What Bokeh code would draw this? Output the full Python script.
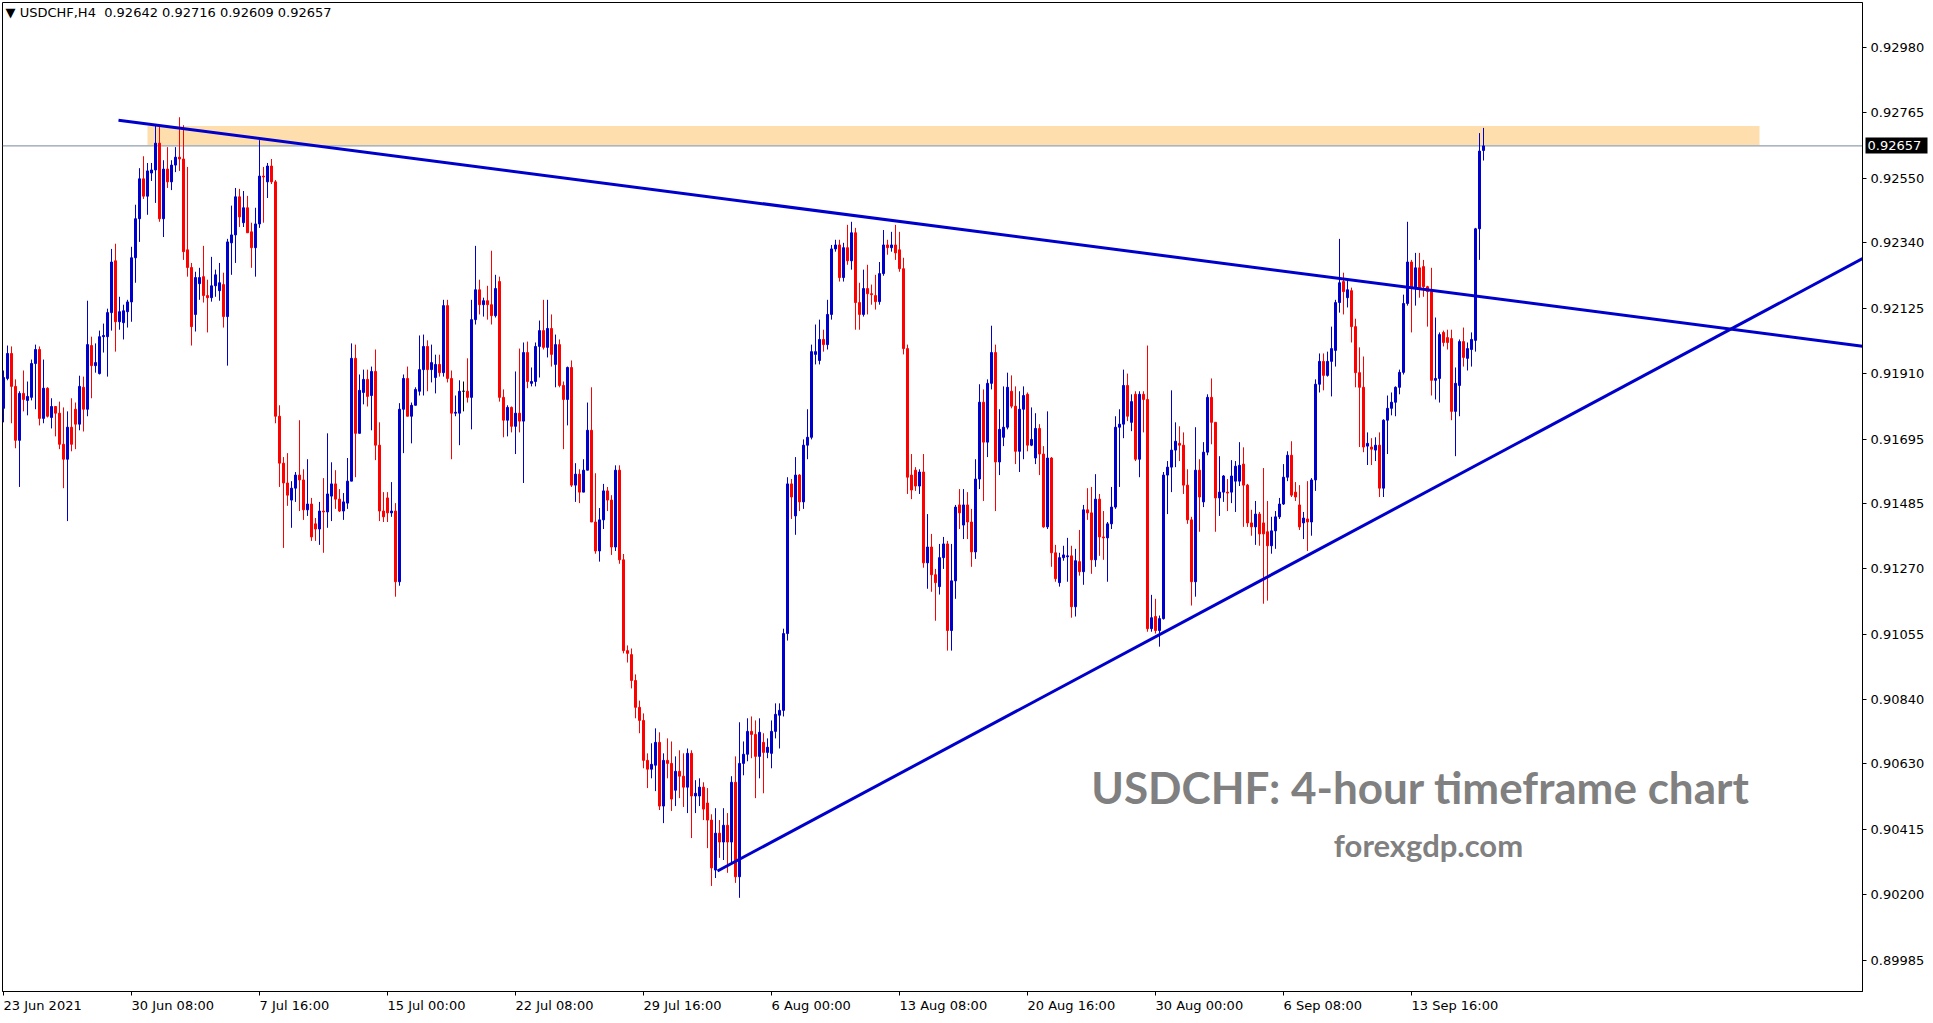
from bokeh.plotting import figure
from bokeh.models import (Range1d, FixedTicker, PrintfTickFormatter, Label, Span,
                          ColumnDataSource, LinearAxis)
from bokeh.embed import file_html
from bokeh.resources import INLINE

symbol_title = "\u25bc USDCHF,H4\u00a0\u00a00.92642 0.92716 0.92609 0.92657"
watermark_title = "USDCHF: 4-hour timeframe chart"
watermark_site = "forexgdp.com"

opens = [
0.91796,0.91894,0.91976,0.91868,0.91691,0.91845,0.91822,0.91832,0.91943,0.91989,
0.91763,0.91862,0.91766,0.91802,0.91780,0.91678,0.91629,0.91734,0.91793,0.91744,
0.91865,0.91793,0.92002,0.91936,0.91910,0.92031,0.92031,0.92110,0.92280,0.92080,
0.92077,0.92113,0.92145,0.92290,0.92418,0.92549,0.92492,0.92568,0.92578,0.92666,
0.92418,0.92581,0.92539,0.92594,0.92620,0.92614,0.92316,0.92258,0.92104,0.92205,
0.92228,0.92166,0.92159,0.92198,0.92182,0.92202,0.92097,0.92339,0.92365,0.92490,
0.92405,0.92454,0.92375,0.92323,0.92401,0.92558,0.92539,0.92591,0.92539,0.91770,
0.91616,0.91551,0.91495,0.91534,0.91577,0.91561,0.91463,0.91482,0.91417,0.91400,
0.91459,0.91456,0.91508,0.91548,0.91498,0.91459,0.91485,0.91557,0.91960,0.91714,
0.91848,0.91891,0.91838,0.91917,0.91675,0.91459,0.91502,0.91453,0.91459,0.91227,
0.91793,0.91894,0.91770,0.91806,0.91852,0.91923,0.91999,0.91923,0.91897,0.91940,
0.91913,0.92133,0.91894,0.91780,0.91780,0.91852,0.91852,0.91832,0.92087,0.92185,
0.92136,0.92149,0.92136,0.92100,0.92212,0.91832,0.91757,0.91799,0.91737,0.91780,
0.91754,0.91979,0.91878,0.91884,0.91999,0.92051,0.91996,0.92058,0.91940,0.92005,
0.91871,0.91825,0.91930,0.91544,0.91580,0.91521,0.91593,0.91724,0.91423,0.91328,
0.91430,0.91525,0.91495,0.91341,0.91593,0.91299,0.91001,0.90988,0.90903,0.90815,
0.90772,0.90641,0.90612,0.90625,0.90700,0.90491,0.90641,0.90631,0.90543,0.90605,
0.90589,0.90553,0.90664,0.90524,0.90524,0.90553,0.90501,0.90445,0.90281,0.90402,
0.90373,0.90428,0.90373,0.90569,0.90259,0.90631,0.90661,0.90736,0.90726,0.90654,
0.90700,0.90667,0.90664,0.90736,0.90789,0.90805,0.91057,0.91548,0.91443,0.91577,
0.91489,0.91675,0.91701,0.91973,0.91953,0.92022,0.92005,0.92104,0.92319,0.92332,
0.92225,0.92323,0.92280,0.92372,0.92143,0.92104,0.92189,0.92172,0.92166,0.92146,
0.92238,0.92332,0.92323,0.92332,0.92316,0.92254,0.91992,0.91577,0.91593,0.91541,
0.91587,0.91289,0.91341,0.91250,0.91211,0.91306,0.91351,0.91067,0.91230,0.91479,
0.91413,0.91479,0.91423,0.91325,0.91564,0.91816,0.91685,0.91878,0.91979,0.91620,
0.91701,0.91734,0.91852,0.91803,0.91655,0.91793,0.91842,0.91675,0.91633,0.91730,
0.91646,0.91407,0.91633,0.91322,0.91224,0.91306,0.91309,0.91312,0.91145,0.91293,
0.91260,0.91463,0.91453,0.91299,0.91498,0.91374,0.91371,0.91417,0.91472,0.91734,
0.91744,0.91871,0.91750,0.91842,0.91629,0.91842,0.91825,0.91073,0.91113,0.91067,
0.91106,0.91577,0.91603,0.91659,0.91681,0.91675,0.91544,0.91430,0.91227,0.91593,
0.91489,0.91652,0.91832,0.91750,0.91502,0.91521,0.91521,0.91521,0.91557,0.91557,
0.91613,0.91544,0.91420,0.91407,0.91449,0.91420,0.91391,0.91345,0.91394,0.91440,
0.91482,0.91570,0.91642,0.91521,0.91479,0.91420,0.91433,0.91423,0.91561,0.91875,
0.91950,0.91904,0.91950,0.91986,0.92143,0.92212,0.92159,0.92182,0.92064,0.91913,
0.91865,0.91672,0.91669,0.91659,0.91675,0.91534,0.91757,0.91796,0.91816,0.91865,
0.91914,0.92140,0.92276,0.92192,0.92257,0.92261,0.92195,0.92179,0.91888,0.91894,
0.92045,0.92028,0.92025,0.91786,0.91871,0.92015,0.91960,0.91989,0.92019,0.92385,
0.92642]

highs = [
0.91920,0.92002,0.91999,0.91891,0.91852,0.91920,0.91884,0.91956,0.92005,0.91999,
0.91956,0.91865,0.91829,0.91802,0.91818,0.91799,0.91786,0.91829,0.91815,0.91903,
0.91900,0.92149,0.92031,0.92009,0.92051,0.92074,0.92123,0.92319,0.92336,0.92162,
0.92136,0.92152,0.92326,0.92464,0.92584,0.92623,0.92601,0.92601,0.92725,0.92725,
0.92610,0.92653,0.92610,0.92653,0.92751,0.92725,0.92588,0.92273,0.92244,0.92257,
0.92329,0.92218,0.92293,0.92251,0.92273,0.92241,0.92352,0.92461,0.92519,0.92516,
0.92509,0.92493,0.92405,0.92454,0.92676,0.92588,0.92601,0.92614,0.92545,0.91806,
0.91636,0.91649,0.91557,0.91587,0.91757,0.91596,0.91629,0.91502,0.91436,0.91489,
0.91567,0.91714,0.91619,0.91593,0.91531,0.91518,0.91633,0.92009,0.92005,0.91907,
0.91923,0.91923,0.91933,0.91989,0.91750,0.91521,0.91521,0.91554,0.91485,0.91813,
0.91907,0.91933,0.91815,0.91865,0.92035,0.92038,0.92019,0.92005,0.91972,0.91972,
0.92152,0.92152,0.91920,0.91838,0.91888,0.91884,0.91960,0.92152,0.92329,0.92218,
0.92159,0.92198,0.92313,0.92234,0.92228,0.91858,0.91806,0.91802,0.91917,0.91992,
0.92012,0.92015,0.91930,0.92012,0.92084,0.92152,0.92152,0.92104,0.92038,0.92022,
0.91884,0.91933,0.91953,0.91616,0.91596,0.91629,0.91815,0.91865,0.91583,0.91469,
0.91548,0.91538,0.91511,0.91609,0.91609,0.91318,0.91018,0.91008,0.90923,0.90837,
0.90795,0.90664,0.90697,0.90746,0.90733,0.90664,0.90713,0.90703,0.90654,0.90674,
0.90664,0.90680,0.90674,0.90576,0.90582,0.90569,0.90550,0.90464,0.90484,0.90445,
0.90484,0.90468,0.90589,0.90654,0.90766,0.90703,0.90779,0.90785,0.90772,0.90779,
0.90730,0.90713,0.90772,0.90828,0.90828,0.91073,0.91570,0.91564,0.91636,0.91580,
0.91694,0.91793,0.92005,0.92071,0.92087,0.92054,0.92152,0.92332,0.92349,0.92349,
0.92339,0.92398,0.92408,0.92388,0.92208,0.92251,0.92267,0.92202,0.92234,0.92276,
0.92381,0.92349,0.92375,0.92398,0.92375,0.92290,0.92005,0.91646,0.91603,0.91596,
0.91646,0.91449,0.91384,0.91269,0.91351,0.91374,0.91361,0.91351,0.91479,0.91531,
0.91531,0.91521,0.91466,0.91629,0.91875,0.91858,0.91891,0.92067,0.92005,0.91793,
0.91868,0.91913,0.91904,0.91868,0.91852,0.91868,0.91848,0.91799,0.91780,0.91744,
0.91672,0.91786,0.91636,0.91348,0.91322,0.91345,0.91371,0.91345,0.91335,0.91397,
0.91479,0.91534,0.91538,0.91580,0.91515,0.91459,0.91423,0.91538,0.91770,0.91793,
0.91923,0.91910,0.91842,0.91852,0.91852,0.91852,0.92002,0.91184,0.91171,0.91116,
0.91587,0.91623,0.91855,0.91750,0.91737,0.91717,0.91596,0.91440,0.91734,0.91629,
0.91685,0.91842,0.91894,0.91750,0.91639,0.91577,0.91564,0.91626,0.91623,0.91685,
0.91668,0.91548,0.91463,0.91492,0.91456,0.91600,0.91492,0.91440,0.91459,0.91502,
0.91613,0.91655,0.91688,0.91554,0.91544,0.91456,0.91557,0.91567,0.91891,0.91976,
0.91976,0.91982,0.92064,0.92152,0.92352,0.92241,0.92218,0.92192,0.92090,0.91996,
0.91966,0.91717,0.91698,0.91701,0.91717,0.91760,0.91838,0.91848,0.91868,0.91923,
0.92169,0.92408,0.92283,0.92306,0.92306,0.92283,0.92198,0.92257,0.92094,0.92045,
0.92051,0.92054,0.92054,0.91930,0.92022,0.92061,0.92012,0.92045,0.92388,0.92699,
0.92716]

lows = [
0.91750,0.91888,0.91747,0.91665,0.91538,0.91786,0.91773,0.91822,0.91793,0.91740,
0.91747,0.91766,0.91730,0.91704,0.91662,0.91534,0.91426,0.91655,0.91662,0.91724,
0.91720,0.91770,0.91829,0.91913,0.91907,0.91979,0.91900,0.92051,0.91982,0.92054,
0.92022,0.92061,0.92080,0.92208,0.92342,0.92483,0.92431,0.92542,0.92470,0.92408,
0.92358,0.92519,0.92512,0.92571,0.92575,0.92283,0.92228,0.92002,0.92048,0.92152,
0.92143,0.92045,0.92146,0.92162,0.92149,0.92061,0.91936,0.92234,0.92273,0.92391,
0.92391,0.92372,0.92257,0.92228,0.92388,0.92405,0.92486,0.92532,0.91747,0.91538,
0.91338,0.91476,0.91404,0.91489,0.91459,0.91430,0.91443,0.91361,0.91361,0.91348,
0.91322,0.91404,0.91426,0.91466,0.91456,0.91430,0.91466,0.91557,0.91570,0.91714,
0.91809,0.91802,0.91724,0.91626,0.91426,0.91423,0.91423,0.91440,0.91178,0.91214,
0.91649,0.91770,0.91681,0.91806,0.91838,0.91838,0.91852,0.91881,0.91845,0.91900,
0.91900,0.91881,0.91629,0.91770,0.91675,0.91786,0.91815,0.91727,0.92071,0.92104,
0.92097,0.92087,0.92071,0.92094,0.91818,0.91701,0.91704,0.91717,0.91646,0.91717,
0.91551,0.91862,0.91868,0.91868,0.91897,0.91989,0.91963,0.91933,0.91865,0.91865,
0.91662,0.91740,0.91538,0.91489,0.91485,0.91521,0.91593,0.91423,0.91319,0.91293,
0.91400,0.91459,0.91315,0.91328,0.91286,0.90992,0.90962,0.90877,0.90779,0.90730,
0.90615,0.90550,0.90582,0.90540,0.90478,0.90435,0.90582,0.90475,0.90491,0.90517,
0.90488,0.90468,0.90386,0.90468,0.90491,0.90445,0.90353,0.90229,0.90255,0.90321,
0.90314,0.90272,0.90304,0.90239,0.90190,0.90592,0.90638,0.90648,0.90517,0.90582,
0.90533,0.90648,0.90615,0.90713,0.90680,0.90785,0.91034,0.91433,0.91381,0.91459,
0.91466,0.91629,0.91694,0.91940,0.91940,0.91982,0.91989,0.92087,0.92310,0.92212,
0.92212,0.92267,0.92251,0.92054,0.92054,0.92097,0.92104,0.92136,0.92120,0.92136,
0.92231,0.92300,0.92310,0.92283,0.92244,0.91973,0.91515,0.91498,0.91525,0.91515,
0.91273,0.91204,0.91194,0.91099,0.91185,0.91269,0.91001,0.91001,0.91171,0.91400,
0.91367,0.91367,0.91276,0.91302,0.91531,0.91492,0.91636,0.91858,0.91459,0.91577,
0.91672,0.91727,0.91796,0.91613,0.91587,0.91629,0.91655,0.91672,0.91613,0.91577,
0.91404,0.91400,0.91276,0.91227,0.91211,0.91296,0.91227,0.91109,0.91113,0.91247,
0.91217,0.91430,0.91253,0.91276,0.91312,0.91299,0.91227,0.91400,0.91466,0.91538,
0.91698,0.91754,0.91721,0.91623,0.91570,0.91717,0.91063,0.91063,0.91057,0.91014,
0.91103,0.91449,0.91521,0.91603,0.91623,0.91515,0.91417,0.91149,0.91178,0.91391,
0.91472,0.91642,0.91678,0.91391,0.91443,0.91489,0.91459,0.91485,0.91456,0.91541,
0.91407,0.91407,0.91378,0.91348,0.91345,0.91155,0.91165,0.91319,0.91335,0.91433,
0.91479,0.91557,0.91505,0.91492,0.91397,0.91367,0.91328,0.91378,0.91525,0.91848,
0.91855,0.91900,0.91835,0.91933,0.92110,0.92104,0.92127,0.92012,0.91865,0.91669,
0.91652,0.91610,0.91610,0.91623,0.91505,0.91505,0.91646,0.91773,0.91770,0.91842,
0.91907,0.92133,0.92045,0.92133,0.92159,0.92162,0.92064,0.91838,0.91825,0.91815,
0.91999,0.91989,0.91757,0.91639,0.91770,0.91933,0.91920,0.91933,0.91982,0.92283,
0.92609]

closes = [
0.91897,0.91976,0.91868,0.91691,0.91845,0.91825,0.91835,0.91943,0.91989,0.91763,
0.91862,0.91770,0.91802,0.91780,0.91678,0.91629,0.91734,0.91678,0.91744,0.91868,
0.91793,0.92005,0.91936,0.91946,0.92031,0.92035,0.92110,0.92276,0.92080,0.92113,
0.92116,0.92145,0.92290,0.92418,0.92549,0.92492,0.92575,0.92578,0.92666,0.92418,
0.92581,0.92539,0.92594,0.92620,0.92614,0.92310,0.92258,0.92064,0.92225,0.92225,
0.92166,0.92159,0.92198,0.92234,0.92208,0.92097,0.92342,0.92365,0.92490,0.92424,
0.92454,0.92372,0.92323,0.92401,0.92558,0.92555,0.92591,0.92539,0.91770,0.91616,
0.91551,0.91511,0.91534,0.91577,0.91561,0.91463,0.91482,0.91374,0.91400,0.91459,
0.91456,0.91515,0.91548,0.91498,0.91459,0.91489,0.91557,0.91960,0.91714,0.91855,
0.91891,0.91835,0.91917,0.91675,0.91459,0.91440,0.91453,0.91459,0.91227,0.91793,
0.91894,0.91770,0.91806,0.91858,0.91923,0.91999,0.91923,0.91946,0.91940,0.91913,
0.92133,0.91894,0.91780,0.91783,0.91852,0.91852,0.91832,0.92087,0.92185,0.92136,
0.92149,0.92136,0.92100,0.92189,0.91832,0.91757,0.91799,0.91737,0.91780,0.91754,
0.91979,0.91884,0.91884,0.91999,0.92051,0.91996,0.92058,0.91973,0.92005,0.91871,
0.91825,0.91930,0.91544,0.91580,0.91521,0.91593,0.91724,0.91423,0.91328,0.91430,
0.91525,0.91495,0.91341,0.91593,0.91299,0.91001,0.90992,0.90903,0.90815,0.90772,
0.90641,0.90612,0.90628,0.90700,0.90491,0.90641,0.90631,0.90514,0.90605,0.90589,
0.90553,0.90664,0.90524,0.90533,0.90553,0.90481,0.90445,0.90288,0.90402,0.90373,
0.90428,0.90373,0.90569,0.90259,0.90631,0.90661,0.90736,0.90726,0.90654,0.90733,
0.90667,0.90684,0.90736,0.90792,0.90805,0.91057,0.91548,0.91505,0.91577,0.91489,
0.91675,0.91701,0.91982,0.91982,0.92022,0.92005,0.92104,0.92319,0.92332,0.92225,
0.92323,0.92280,0.92372,0.92143,0.92104,0.92189,0.92172,0.92169,0.92146,0.92238,
0.92332,0.92323,0.92332,0.92306,0.92254,0.91992,0.91570,0.91528,0.91541,0.91587,
0.91289,0.91341,0.91250,0.91224,0.91306,0.91351,0.91067,0.91230,0.91472,0.91453,
0.91479,0.91423,0.91325,0.91564,0.91816,0.91685,0.91878,0.91979,0.91620,0.91727,
0.91734,0.91865,0.91803,0.91655,0.91793,0.91838,0.91675,0.91694,0.91730,0.91646,
0.91407,0.91633,0.91322,0.91237,0.91306,0.91315,0.91312,0.91145,0.91296,0.91260,
0.91463,0.91453,0.91299,0.91498,0.91374,0.91371,0.91417,0.91472,0.91734,0.91744,
0.91871,0.91770,0.91818,0.91629,0.91842,0.91825,0.91073,0.91109,0.91067,0.91106,
0.91577,0.91603,0.91659,0.91688,0.91675,0.91544,0.91430,0.91227,0.91593,0.91505,
0.91652,0.91832,0.91750,0.91502,0.91521,0.91574,0.91518,0.91574,0.91606,0.91609,
0.91544,0.91420,0.91407,0.91449,0.91384,0.91384,0.91345,0.91394,0.91440,0.91482,
0.91570,0.91642,0.91511,0.91505,0.91407,0.91436,0.91423,0.91561,0.91875,0.91950,
0.91904,0.91950,0.91992,0.92143,0.92208,0.92179,0.92185,0.92064,0.91913,0.91865,
0.91669,0.91681,0.91662,0.91675,0.91534,0.91757,0.91796,0.91816,0.91865,0.91914,
0.92140,0.92276,0.92192,0.92257,0.92192,0.92195,0.92179,0.91888,0.91894,0.92038,
0.92012,0.92012,0.91786,0.91878,0.92015,0.91963,0.91992,0.92022,0.92385,0.92640,
0.92657]

x_tick_bars = [0, 32, 64, 96, 128, 160, 192, 224, 256, 288, 320, 352]
x_tick_labels = ["23 Jun 2021", "30 Jun 08:00", "7 Jul 16:00", "15 Jul 00:00",
                 "22 Jul 08:00", "29 Jul 16:00", "6 Aug 00:00", "13 Aug 08:00",
                 "20 Aug 16:00", "30 Aug 00:00", "6 Sep 08:00", "13 Sep 16:00"]
y_ticks = [0.92980, 0.92765, 0.92550, 0.92340, 0.92125, 0.91910, 0.91695,
           0.91485, 0.91270, 0.91055, 0.90840, 0.90630, 0.90415, 0.90200, 0.89985]
current_price = 0.92657

zone_bars = [36, 439]
zone_prices = [0.92660, 0.92722]
resistance_bars = [28.75, 464.75]
resistance_prices = [0.92741, 0.92000]
support_bars = [178.5, 464.75]
support_prices = [0.90278, 0.92287]

BULL = "#0000CD"
BEAR = "#FF0000"

n = min(len(opens), len(highs), len(lows), len(closes))
bars = list(range(n))
colors = []
for o, c in zip(opens[:n], closes[:n]):
    colors.append(BULL if c > o else (BEAR if c < o else "#000000"))
src = ColumnDataSource(dict(
    x=bars, o=opens[:n], h=highs[:n], l=lows[:n], c=closes[:n],
    top=[max(a, b) for a, b in zip(opens[:n], closes[:n])],
    bottom=[min(a, b) for a, b in zip(opens[:n], closes[:n])],
    color=colors))

p = figure(width=1933, height=1023, output_backend="svg", toolbar_location=None,
           x_range=Range1d(-0.25, 464.75), y_range=Range1d(0.898826, 0.931275),
           y_axis_location="right",
           min_border_left=2, min_border_top=2, min_border_right=71, min_border_bottom=29)
p.background_fill_color = "white"
p.border_fill_color = "white"
p.outline_line_color = "black"
p.outline_line_width = 1
p.xgrid.visible = False
p.ygrid.visible = False

# right price axis
p.yaxis.ticker = FixedTicker(ticks=y_ticks)
p.yaxis.formatter = PrintfTickFormatter(format="%.5f")
p.yaxis.major_tick_in = 0
p.yaxis.major_tick_out = 4
p.yaxis.minor_tick_in = 0
p.yaxis.minor_tick_out = 0
p.yaxis.major_label_standoff = 4
p.yaxis.axis_line_color = "black"
p.yaxis.major_tick_line_color = "black"
p.yaxis.major_label_text_font = "DejaVu Sans"
p.yaxis.major_label_text_font_size = "13px"
p.yaxis.major_label_text_color = "black"

# current-price marker: a second axis whose single tick is drawn as a black box
price_axis = LinearAxis(
    ticker=FixedTicker(ticks=[current_price]),
    formatter=PrintfTickFormatter(format="%.5f"),
    axis_line_color=None,
    major_tick_in=62, major_tick_out=0,
    major_tick_line_width=16, major_tick_line_color="black", major_tick_line_cap="butt",
    minor_tick_in=0, minor_tick_out=0,
    major_label_standoff=-60,
    major_label_text_font="DejaVu Sans", major_label_text_font_size="13px",
    major_label_text_color="white")
p.add_layout(price_axis, "right")

# time axis: labels start at their tick (small negative angle -> left aligned)
p.xaxis.ticker = FixedTicker(ticks=x_tick_bars)
p.xaxis.major_label_overrides = {b: t for b, t in zip(x_tick_bars, x_tick_labels)}
p.xaxis.major_label_orientation = -0.0001
p.xaxis.major_tick_in = 0
p.xaxis.major_tick_out = 4
p.xaxis.minor_tick_in = 0
p.xaxis.minor_tick_out = 0
p.xaxis.major_label_standoff = 10
p.xaxis.axis_line_color = "black"
p.xaxis.major_tick_line_color = "black"
p.xaxis.major_label_text_font = "DejaVu Sans"
p.xaxis.major_label_text_font_size = "13px"
p.xaxis.major_label_text_color = "black"

# resistance zone
p.quad(left=[zone_bars[0]], right=[zone_bars[1]], bottom=[zone_prices[0]], top=[zone_prices[1]],
       fill_color="#FFDEAD", line_color=None)

# bid line
p.add_layout(Span(location=current_price, dimension="width", line_color="#778899",
                  line_width=1, level="underlay"))

# candles
p.segment(x0="x", y0="h", x1="x", y1="l", line_color="color", line_width=1, source=src)
p.vbar(x="x", width=0.5, top="top", bottom="bottom", fill_color="color",
       line_color="color", line_width=1, source=src)

# trend lines
p.line(resistance_bars, resistance_prices, line_color="#0000CD", line_width=3)
p.line(support_bars, support_prices, line_color="#0000CD", line_width=3)

# texts (frame-relative screen coordinates, y from the bottom)
p.add_layout(Label(x=3, y=979, x_units="screen", y_units="screen", text=symbol_title,
                   text_font="DejaVu Sans", text_font_size="13px", text_color="black",
                   text_baseline="middle", text_align="left"))
p.add_layout(Label(x=1418, y=205, x_units="screen", y_units="screen", text=watermark_title,
                   text_font="Lato", text_font_style="bold", text_font_size="44px",
                   text_color="#808080", text_baseline="middle", text_align="center"))
p.add_layout(Label(x=1426, y=147, x_units="screen", y_units="screen", text=watermark_site,
                   text_font="Lato", text_font_style="bold", text_font_size="31px",
                   text_color="#808080", text_baseline="middle", text_align="center"))

open("out.html", "w").write(file_html(p, INLINE))
